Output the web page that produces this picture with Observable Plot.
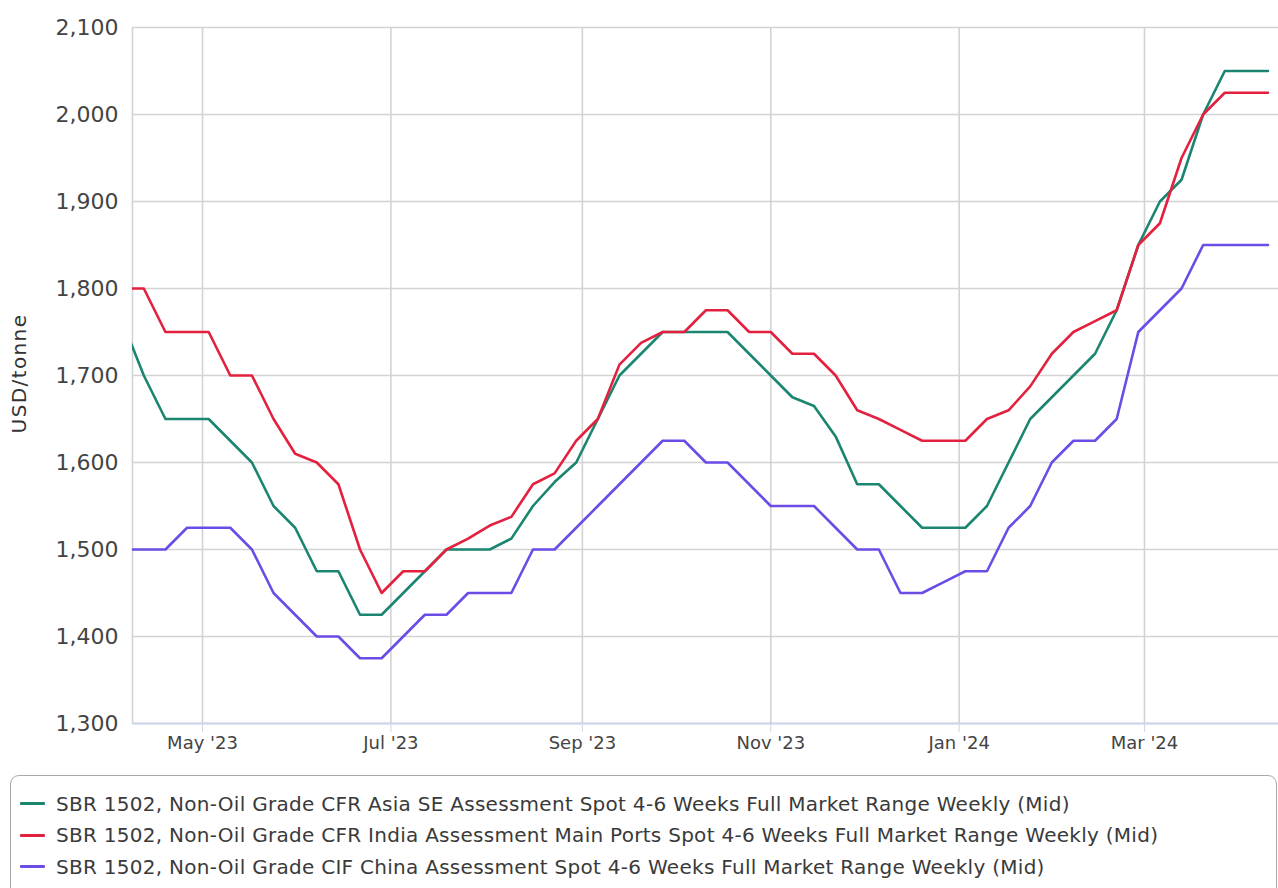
<!DOCTYPE html>
<html>
<head>
<meta charset="utf-8">
<script src="https://cdn.jsdelivr.net/npm/d3@7"></script>
<script src="https://cdn.jsdelivr.net/npm/@observablehq/plot@0.6"></script>
<style>
  html, body { margin: 0; padding: 0; background: #fff; }
  body { width: 1278px; height: 888px; position: relative; overflow: hidden; font-family: "DejaVu Sans", sans-serif; }
  #chart { position: absolute; left: 0; top: 0; }
  #legend {
    position: absolute; left: 10px; top: 775px; width: 1267px; height: 130px;
    box-sizing: border-box; border: 1.5px solid #a8a8a8; border-radius: 9px;
    padding-top: 12px;
  }
  .item { display: flex; align-items: center; height: 31.5px; }
  .sym { width: 25px; height: 3px; margin-left: 9px; margin-right: 11px; border-radius: 1px; }
  .lab { font-size: 20px; letter-spacing: 0.28px; color: #3a3a3a; white-space: nowrap; }
</style>
</head>
<body>
<div id="chart"></div>
<div id="legend"></div>
<script>
// Weekly assessment dates (first one lies just left of the visible range)
const dates = [
  "2023-04-05","2023-04-12","2023-04-19","2023-04-26","2023-05-03","2023-05-10","2023-05-17","2023-05-24","2023-05-31",
  "2023-06-07","2023-06-14","2023-06-21","2023-06-28","2023-07-05","2023-07-12","2023-07-19","2023-07-26",
  "2023-08-02","2023-08-09","2023-08-16","2023-08-23","2023-08-30","2023-09-06","2023-09-13","2023-09-20","2023-09-27",
  "2023-10-04","2023-10-11","2023-10-18","2023-10-25","2023-11-01","2023-11-08","2023-11-15","2023-11-22","2023-11-29",
  "2023-12-06","2023-12-13","2023-12-20","2023-12-27","2024-01-03","2024-01-10","2024-01-17","2024-01-24","2024-01-31",
  "2024-02-07","2024-02-14","2024-02-21","2024-02-28","2024-03-06","2024-03-13","2024-03-20","2024-03-27","2024-04-03","2024-04-10"
];

const asiaSE = [
  1762.5,1700,1650,1650,1650,1625,1600,1550,1525,
  1475,1475,1425,1425,1450,1475,1500,1500,
  1500,1512.5,1550,1577.5,1600,1650,1700,1725,1750,
  1750,1750,1750,1725,1700,1675,1665,1630,1575,
  1575,1550,1525,1525,1525,1550,1600,1650,1675,
  1700,1725,1775,1850,1900,1925,2000,2050,2050,2050
];

const india = [
  1800,1800,1750,1750,1750,1700,1700,1650,1610,
  1600,1575,1500,1450,1475,1475,1500,1512.5,
  1527.5,1537.5,1575,1587.5,1625,1650,1712.5,1737.5,1750,
  1750,1775,1775,1750,1750,1725,1725,1700,1660,
  1650,1637.5,1625,1625,1625,1650,1660,1687.5,1725,
  1750,1762.5,1775,1850,1875,1950,2000,2025,2025,2025
];

const china = [
  1500,1500,1500,1525,1525,1525,1500,1450,1425,
  1400,1400,1375,1375,1400,1425,1425,1450,
  1450,1450,1500,1500,1525,1550,1575,1600,1625,
  1625,1600,1600,1575,1550,1550,1550,1525,1500,
  1500,1450,1450,1462.5,1475,1475,1525,1550,1600,
  1625,1625,1650,1750,1775,1800,1850,1850,1850,1850
];

const seriesNames = [
  "SBR 1502, Non-Oil Grade CFR Asia SE Assessment Spot 4-6 Weeks Full Market Range Weekly (Mid)",
  "SBR 1502, Non-Oil Grade CFR India Assessment Main Ports Spot 4-6 Weeks Full Market Range Weekly (Mid)",
  "SBR 1502, Non-Oil Grade CIF China Assessment Spot 4-6 Weeks Full Market Range Weekly (Mid)"
];
const seriesColors = ["#1b8570", "#e3213f", "#6b4ce6"];

const yTicks = [1300, 1400, 1500, 1600, 1700, 1800, 1900, 2000, 2100];
const xTickDates = ["2023-05-01", "2023-07-01", "2023-09-01", "2023-11-01", "2024-01-01", "2024-03-01"];
const xTickLabels = ["May '23", "Jul '23", "Sep '23", "Nov '23", "Jan '24", "Mar '24"];
const yLabel = "USD/tonne";
const xDomain = ["2023-04-08T08:00:00Z", "2024-04-13T09:30:00Z"];

// tidy table
const allSeries = [asiaSE, india, china];
const rows = [];
allSeries.forEach((vals, si) => {
  vals.forEach((v, i) => rows.push({ date: new Date(dates[i]), value: v, series: seriesNames[si] }));
});
const xTicks = xTickDates.map(d => new Date(d));
const labelOf = new Map(xTicks.map((d, i) => [+d, xTickLabels[i]]));

const chart = Plot.plot({
  width: 1278,
  height: 762,
  marginLeft: 132,
  marginRight: 0,
  marginTop: 27,
  marginBottom: 39,
  style: { fontFamily: "DejaVu Sans, sans-serif", background: "#fff", overflow: "visible" },
  x: { type: "utc", domain: xDomain.map(d => new Date(d)) },
  y: { domain: [1300, 2100] },
  color: { domain: seriesNames, range: seriesColors },
  marks: [
    Plot.gridY(yTicks, { stroke: "#d3d3d3", strokeOpacity: 1, strokeWidth: 1.6 }),
    Plot.gridX(xTicks, { stroke: "#d3d3d3", strokeOpacity: 1, strokeWidth: 1.6 }),
    Plot.ruleX([new Date(xDomain[0])], { stroke: "#d3d3d3", strokeWidth: 1.6 }),
    Plot.ruleY([1300], { stroke: "#ccd6eb", strokeWidth: 2 }),
    Plot.axisY(yTicks, {
      tickSize: 0, tickPadding: 14, fontSize: 22, fill: "#444",
      tickFormat: d3.format(","), label: null
    }),
    Plot.axisX(xTicks, {
      tickSize: 9, tickPadding: 4, fontSize: 18, fill: "#444", stroke: "#ccd6eb",
      tickFormat: d => labelOf.get(+d), label: null
    }),
    Plot.text([yLabel], {
      frameAnchor: "left", textAnchor: "middle", dx: -113, dy: -2, rotate: -90,
      fontSize: 20, fill: "#333"
    }),
    Plot.lineY(rows, {
      x: "date", y: "value", z: "series", stroke: "series",
      strokeWidth: 2.6, strokeLinejoin: "round", clip: true
    })
  ]
});
document.getElementById("chart").appendChild(chart);
chart.querySelectorAll("text").forEach(t => { if (t.textContent === yLabel) t.setAttribute("letter-spacing", "1.4"); });

// legend
const legend = document.getElementById("legend");
seriesNames.forEach((name, i) => {
  const item = document.createElement("div");
  item.className = "item";
  const sym = document.createElement("span");
  sym.className = "sym";
  sym.style.background = seriesColors[i];
  const lab = document.createElement("span");
  lab.className = "lab";
  lab.textContent = name;
  item.appendChild(sym);
  item.appendChild(lab);
  legend.appendChild(item);
});
</script>
</body>
</html>
